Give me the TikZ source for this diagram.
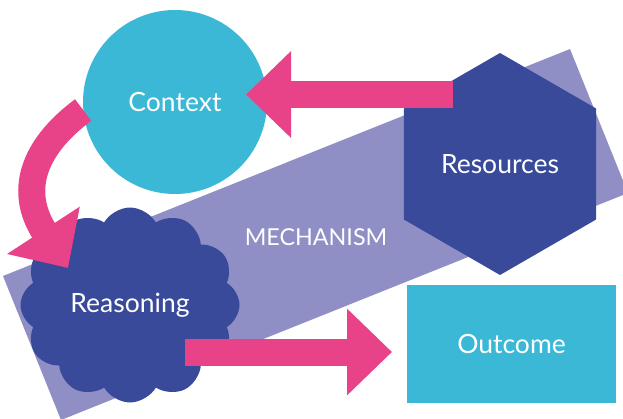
\documentclass[tikz,border=0pt]{standalone}
\usepackage{fontspec}
\setmainfont{Lato}
\usepackage{tikz}
\usetikzlibrary{shapes,arrows.meta}
\definecolor{sky}{RGB}{58,184,214}
\definecolor{navy}{RGB}{57,74,154}
\definecolor{lilac}{RGB}{143,143,198}
\definecolor{rose}{RGB}{232,67,137}

\begin{document}
\begin{tikzpicture}[x=1pt, y=-1pt, label node/.style={text=white, font=\fontsize{26.5}{30}\selectfont, inner sep=0pt}, main node/.style={label node, fill=navy}, pink arrow/.style={draw=rose, line width=27pt, -{Triangle[length=45pt, width=84pt]}}]
\useasboundingbox (0,0) rectangle (623,419);
\clip (0,0) rectangle (623,419);
% mechanism band
\fill[lilac] (3,276) -- (570,49) -- (628,193) -- (61,420) -- cycle;
\node[label node, font=\fontsize{23.3}{26}\selectfont] (mechanism) at (316,237) {MECHANISM};
\node[label node, circle, fill=sky, minimum size=184pt] (context) at (175,102) {Context};
\node[main node, regular polygon, regular polygon sides=6, shape border rotate=30, minimum size=222pt] (resources) at (500,164) {Resources};
\node[main node, cloud, cloud puffs=12, cloud puff arc=120, aspect=1.12, minimum width=219pt, minimum height=195pt] (reasoning) at (130,305) {Reasoning};
\node[label node, rectangle, fill=sky, minimum width=209pt, minimum height=118pt] (outcome) at (511.5,344) {Outcome};
\coordinate (resources-out) at (453,94.5);
\coordinate (context-in) at (246,94.5);
\coordinate (reasoning-in) at (68,268);
\coordinate (reasoning-out) at (185,352);
\coordinate (outcome-in) at (392,352);
\path
(resources-out) edge[pink arrow] (context-in)
(reasoning-out) edge[pink arrow] (outcome-in);
\draw[pink arrow] (context.185) .. controls (32,148) and (18.5,192) .. (reasoning-in);
\end{tikzpicture}
\end{document}
